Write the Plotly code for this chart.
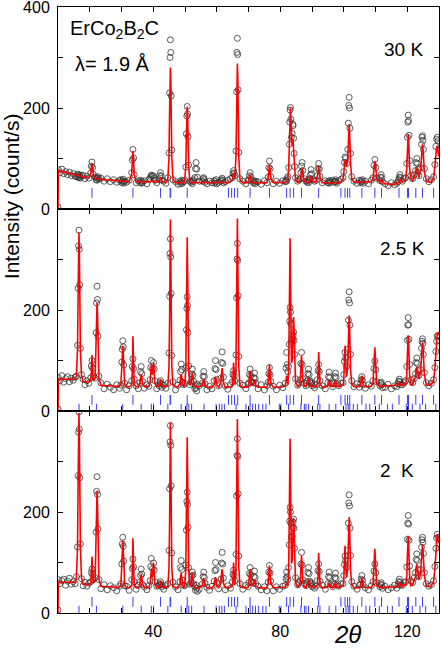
import plotly.graph_objects as go
from plotly.subplots import make_subplots

# 2-theta grid (deg), denser around the reflections
two_theta = [
    10.0, 10.1, 10.6, 11.2, 11.8, 12.4, 13.0, 13.6, 14.2, 14.8, 15.4,
    15.8, 16.15, 16.35, 16.48, 16.6, 16.72, 16.85, 17.05, 17.4,
    17.9, 18.5, 19.1, 19.7,
    20.3, 20.5, 20.7, 20.9, 21.1,
    21.7, 22.0, 22.15, 22.3, 22.45, 22.6, 22.9,
    23.5, 24.5, 25.5, 26.5, 27.5, 28.5, 29.4,
    29.8, 30.1, 30.25, 30.4, 30.55, 30.7, 31.0,
    31.6, 32.4, 33.2, 33.4, 33.6, 33.8, 34.0, 34.6, 35.3,
    35.8, 36.0, 36.2, 36.4, 36.6, 37.2, 38.0, 38.6,
    39.0, 39.2, 39.4, 39.75, 40.1, 40.3, 40.5, 41.1, 41.9, 42.1, 42.3, 42.5, 42.7, 43.3, 44.0,
    44.6, 44.95, 45.15, 45.28, 45.4, 45.52, 45.65, 45.85, 46.2,
    47.0, 47.8, 48.4, 48.6, 48.8, 49.0, 49.2, 49.6,
    49.9, 50.25, 50.45, 50.58, 50.7, 50.82, 50.95, 51.15, 51.5,
    51.9, 52.1, 52.3, 52.5, 52.7, 53.1, 53.3, 53.5, 53.7, 53.9, 54.5,
    55.5, 55.7, 55.9, 56.1, 56.3, 56.9, 57.7, 58.5,
    59.2, 59.4, 59.6, 59.8, 60.0, 60.6,
    61.3, 61.5, 61.7, 61.9, 62.1, 62.7, 63.5, 64.3,
    64.9, 65.1, 65.3, 65.5, 65.7, 66.05, 66.25, 66.38, 66.5, 66.62, 66.75, 66.95, 67.3,
    68.2, 69.2, 69.9,
    70.1, 70.3, 70.5, 70.7, 70.9, 71.5, 71.7, 71.9, 72.1, 72.3,
    73.0, 74.0, 75.0, 75.8,
    76.2, 76.4, 76.6, 76.8, 77.0,
    77.8, 78.8, 79.8, 80.8,
    81.6, 81.8, 82.0, 82.2, 82.4, 82.65, 82.85, 82.98, 83.1, 83.22, 83.35, 83.55, 83.75, 83.95, 84.05, 84.2, 84.35, 84.5, 84.8,
    85.5, 85.9, 86.3, 86.5, 86.7, 86.9, 87.1, 87.6, 88.1,
    88.5, 88.7, 88.9, 89.1, 89.3, 89.5, 89.7, 89.9, 90.1,
    90.8, 91.3, 91.7, 91.9, 92.1, 92.3, 92.5, 93.2, 94.2,
    95.0, 95.2, 95.4, 95.6, 95.8, 96.5, 97.0, 97.2, 97.4, 97.6, 97.8, 98.4, 99.2,
    99.8, 100.0, 100.2, 100.4, 100.6, 100.9, 101.25, 101.45, 101.58, 101.7, 101.82, 101.95, 102.15, 102.5,
    103.2, 104.2, 104.9, 105.3, 105.5, 105.7, 105.9, 106.1, 106.8, 107.8, 108.7,
    109.2, 109.5, 109.8, 110.1, 110.4, 111.4, 111.6, 111.8, 112.0, 112.2,
    113.0, 114.0, 115.0, 116.0, 116.7, 117.1, 117.3, 117.5, 117.7, 117.9, 118.5, 119.1,
    119.5, 119.85, 120.05, 120.18, 120.3, 120.42, 120.55, 120.75, 121.1,
    121.7, 122.2, 122.6, 122.8, 123.0, 123.2, 123.4, 123.7,
    124.2, 124.5, 124.65, 124.8, 124.95, 125.1, 125.4,
    126.0, 126.8, 127.6, 128.3, 128.7, 129.0, 129.25, 129.45, 129.7, 130.0,
]

obs_30k = [
    4, 78, 72, 79, 70, 74, 68, 73, 66, 70, 65,
    64, 69, 63, 67, 62, 68, 65, 61, 66,
    67, 60, 65, 61,
    71, 85, 93, 82, 69,
    63, 58, 62, 57, 61, 64, 59,
    61, 55, 60, 54, 58, 53, 57,
    58, 52, 56, 54, 59, 51, 55,
    53, 57, 72, 97, 118, 101, 68, 52, 56,
    53, 57, 51, 55, 52, 56, 50, 58,
    60, 64, 67, 66, 65, 61, 57, 52, 58, 66, 72, 65, 57, 55, 51,
    62, 111, 230, 300, 335, 310, 224, 117, 58,
    54, 49, 55, 50, 53, 57, 51, 54,
    57, 83, 149, 184, 203, 188, 143, 87, 55,
    53, 56, 50, 54, 58, 62, 80, 92, 79, 63, 55,
    55, 60, 62, 58, 53, 50, 55, 52,
    56, 51, 54, 58, 50, 53,
    55, 58, 61, 57, 52, 54, 57, 60,
    62, 71, 76, 70, 66, 115, 232, 310, 338, 306, 236, 112, 60,
    55, 50, 57,
    57, 66, 72, 64, 58, 52, 56, 53, 50, 55,
    54, 49, 56, 52,
    63, 82, 95, 80, 64,
    50, 55, 51, 56,
    54, 57, 55, 60, 64, 82, 128, 172, 196, 201, 178, 142, 150, 168, 165, 140, 110, 84, 62,
    55, 58, 60, 72, 85, 92, 76, 60, 55,
    53, 56, 52, 58, 60, 68, 78, 70, 58,
    55, 57, 66, 80, 90, 79, 65, 52, 56,
    52, 55, 51, 56, 53, 57, 53, 55, 58, 54, 51, 56, 59,
    62, 74, 92, 103, 100, 90, 118, 170, 205, 221, 200, 160, 110, 64,
    55, 51, 57, 52, 56, 54, 58, 51, 55, 50, 57,
    62, 86, 98, 82, 61, 56, 63, 68, 62, 54,
    50, 46, 52, 48, 51, 54, 58, 63, 68, 62, 55, 60,
    62, 90, 142, 172, 186, 175, 146, 96, 66,
    60, 68, 76, 92, 100, 90, 78, 66,
    82, 128, 142, 145, 136, 118, 80,
    60, 54, 58, 64, 88, 124, 138, 142, 135, 118,
]

calc_30k = [
    0, 76, 75, 74, 73, 72, 71, 70, 69, 68, 67,
    66, 66, 66, 65, 65, 65, 65, 65, 64,
    64, 63, 63, 62,
    69, 82, 90, 82, 69,
    61, 60, 60, 60, 60, 60, 60,
    59, 58, 58, 57, 57, 56, 56,
    55, 55, 55, 55, 55, 55, 55,
    54, 54, 69, 97, 115, 97, 69, 54, 54,
    53, 53, 53, 53, 53, 53, 53, 53,
    54, 55, 56, 56, 55, 54, 53, 53, 55, 60, 63, 60, 55, 53, 53,
    59, 102, 193, 255, 280, 255, 193, 102, 59,
    52, 52, 52, 52, 52, 52, 52, 52,
    56, 85, 146, 186, 203, 186, 146, 85, 56,
    52, 52, 52, 52, 52, 52, 52, 52, 52, 52, 52,
    52, 53, 54, 53, 52, 52, 52, 52,
    52, 52, 52, 52, 52, 52,
    52, 53, 54, 53, 52, 52, 53, 54,
    58, 66, 70, 66, 62, 104, 198, 262, 288, 262, 198, 104, 59,
    52, 52, 53,
    56, 63, 68, 63, 56, 52, 52, 52, 52, 52,
    52, 52, 52, 52,
    61, 77, 88, 77, 61,
    52, 52, 52, 52,
    53, 54, 54, 57, 62, 80, 126, 170, 195, 201, 178, 135, 125, 138, 135, 118, 94, 74, 58,
    53, 54, 58, 66, 78, 82, 70, 56, 53,
    52, 52, 53, 54, 56, 61, 66, 61, 55,
    53, 54, 64, 77, 85, 76, 62, 52, 52,
    52, 52, 52, 52, 52, 52, 52, 52, 53, 52, 52, 52, 54,
    60, 70, 86, 96, 95, 84, 100, 135, 158, 168, 155, 125, 90, 60,
    53, 53, 53, 53, 53, 54, 53, 53, 53, 53, 54,
    60, 84, 95, 80, 59, 53, 56, 58, 56, 52,
    50, 49, 49, 49, 50, 52, 54, 57, 60, 57, 53, 56,
    60, 81, 116, 140, 148, 140, 116, 81, 60,
    56, 62, 70, 78, 82, 77, 70, 62,
    78, 114, 125, 128, 120, 104, 74,
    56, 53, 54, 62, 84, 110, 122, 125, 118, 104,
]

obs_25k = [
    4, 66, 60, 70, 57, 64, 68, 58, 65, 61, 67,
    69, 130, 243, 327, 358, 320, 250, 124, 72,
    63, 52, 60, 55,
    66, 89, 100, 85, 70,
    65, 155, 214, 247, 221, 148, 69,
    56, 44, 53, 47, 42, 52, 45,
    51, 97, 122, 139, 127, 91, 55,
    42, 50, 60, 88, 103, 84, 63, 50, 44,
    56, 78, 88, 74, 59, 45, 52, 49,
    62, 86, 100, 84, 96, 83, 60, 44, 50, 56, 60, 54, 47, 51, 45,
    55, 115, 227, 312, 341, 305, 233, 110, 58,
    42, 51, 61, 78, 93, 82, 57, 52,
    55, 85, 161, 203, 226, 209, 155, 89, 52,
    57, 73, 83, 71, 59, 44, 51, 46, 40, 53, 50,
    55, 69, 78, 68, 54, 42, 49, 44,
    60, 84, 100, 82, 62, 50,
    65, 96, 117, 94, 67, 50, 43, 52,
    58, 72, 80, 70, 60, 111, 224, 301, 332, 298, 228, 108, 55,
    51, 44, 53,
    56, 72, 83, 70, 58, 56, 66, 75, 64, 55,
    44, 52, 42, 50,
    57, 74, 86, 72, 59,
    49, 42, 51, 46,
    55, 85, 116, 92, 78, 88, 132, 178, 205, 196, 172, 140, 135, 142, 150, 156, 140, 112, 64,
    51, 55, 62, 94, 116, 92, 64, 55, 50,
    60, 74, 83, 72, 60, 56, 58, 54, 50,
    46, 52, 62, 80, 92, 78, 60, 50, 44,
    56, 68, 77, 66, 55, 48, 55, 68, 75, 66, 54, 50, 55,
    56, 72, 98, 116, 105, 88, 122, 180, 220, 236, 214, 170, 112, 60,
    48, 54, 47, 54, 62, 68, 61, 52, 45, 52, 49,
    60, 84, 99, 82, 58, 50, 55, 57, 52, 46,
    47, 53, 44, 50, 48, 54, 59, 63, 58, 52, 52, 56,
    60, 88, 140, 170, 185, 171, 142, 92, 62,
    56, 64, 74, 96, 105, 94, 80, 70,
    82, 124, 138, 143, 134, 112, 76,
    56, 50, 55, 62, 86, 118, 138, 148, 149, 140,
]

calc_25k = [
    0, 63, 63, 63, 62, 62, 62, 62, 62, 62, 63,
    70, 124, 240, 320, 354, 320, 240, 124, 70,
    58, 58, 57, 57,
    60, 73, 111, 73, 60,
    65, 135, 191, 215, 191, 135, 65,
    51, 50, 50, 50, 49, 49, 49,
    53, 88, 117, 129, 117, 88, 53,
    48, 48, 52, 78, 148, 78, 52, 48, 48,
    54, 66, 73, 66, 54, 48, 48, 49,
    58, 78, 90, 72, 96, 78, 56, 48, 50, 52, 63, 52, 50, 48, 48,
    51, 88, 180, 306, 379, 306, 180, 88, 51,
    48, 48, 54, 66, 73, 66, 54, 49,
    51, 84, 166, 279, 344, 279, 166, 84, 51,
    55, 67, 75, 67, 55, 48, 48, 48, 48, 48, 48,
    51, 58, 63, 58, 51, 47, 47, 47,
    52, 61, 68, 61, 52, 47,
    56, 74, 85, 74, 56, 47, 47, 48,
    50, 62, 96, 62, 52, 87, 181, 308, 381, 308, 181, 87, 50,
    47, 47, 48,
    55, 70, 80, 70, 55, 50, 57, 62, 57, 50,
    47, 47, 47, 47,
    55, 72, 92, 72, 55,
    47, 47, 47, 48,
    50, 60, 70, 60, 52, 82, 165, 277, 342, 277, 165, 95, 100, 140, 165, 186, 165, 110, 58,
    48, 50, 60, 90, 110, 88, 62, 50, 48,
    54, 61, 65, 61, 54, 51, 52, 50, 48,
    48, 49, 54, 70, 117, 70, 54, 47, 47,
    50, 56, 60, 56, 50, 48, 50, 56, 60, 56, 50, 48, 50,
    52, 62, 90, 129, 92, 68, 88, 140, 175, 189, 172, 128, 82, 54,
    48, 48, 48, 52, 62, 70, 62, 52, 48, 48, 49,
    55, 88, 126, 86, 54, 48, 49, 50, 49, 48,
    50, 50, 50, 50, 51, 52, 55, 58, 55, 52, 51, 54,
    52, 72, 112, 138, 150, 138, 112, 72, 52,
    53, 60, 68, 80, 87, 80, 72, 64,
    78, 116, 130, 136, 128, 106, 72,
    52, 51, 53, 60, 84, 120, 142, 154, 156, 150,
]

obs_2k = [
    6, 66, 58, 64, 67, 55, 63, 69, 57, 62, 58,
    72, 131, 272, 358, 398, 364, 268, 137, 68,
    54, 61, 53, 59,
    62, 80, 87, 76, 66,
    70, 160, 241, 270, 235, 166, 66,
    48, 56, 46, 54, 50, 44, 53,
    58, 97, 137, 150, 132, 103, 54,
    53, 45, 66, 88, 107, 91, 62, 47, 55,
    61, 74, 87, 77, 57, 52, 46, 54,
    64, 92, 108, 88, 99, 85, 62, 53, 55, 58, 62, 56, 52, 47, 54,
    58, 124, 246, 339, 371, 332, 252, 119, 61,
    52, 46, 62, 90, 104, 86, 65, 55,
    54, 95, 164, 221, 239, 215, 170, 90, 57,
    60, 73, 81, 75, 58, 52, 45, 55, 49, 43, 47,
    58, 72, 81, 70, 59, 51, 45, 53,
    63, 84, 100, 86, 61, 48,
    67, 99, 120, 97, 69, 46, 54, 49,
    62, 76, 85, 74, 64, 116, 232, 312, 345, 310, 236, 113, 58,
    47, 55, 52,
    60, 78, 90, 76, 62, 59, 72, 83, 70, 58,
    53, 46, 52, 44,
    61, 81, 94, 79, 63,
    44, 52, 47, 53,
    55, 68, 81, 72, 66, 90, 135, 182, 209, 200, 178, 150, 152, 170, 180, 186, 168, 128, 70,
    56, 60, 64, 97, 120, 95, 66, 58, 54,
    62, 80, 90, 78, 63, 58, 60, 55, 52,
    49, 53, 64, 84, 97, 82, 63, 55, 47,
    58, 72, 81, 70, 57, 52, 57, 70, 79, 68, 56, 53, 58,
    58, 74, 96, 113, 104, 90, 124, 178, 218, 234, 212, 168, 114, 62,
    53, 47, 55, 57, 67, 74, 65, 56, 50, 46, 54,
    62, 83, 97, 80, 60, 52, 57, 60, 55, 49,
    53, 46, 50, 55, 49, 56, 62, 67, 61, 55, 55, 60,
    62, 91, 146, 178, 193, 176, 144, 93, 64,
    60, 70, 80, 106, 117, 104, 86, 72,
    86, 130, 145, 150, 140, 118, 80,
    58, 53, 56, 64, 92, 128, 148, 156, 150, 138,
]

calc_2k = [
    0, 61, 61, 61, 61, 60, 60, 60, 60, 60, 61,
    70, 132, 268, 359, 396, 359, 268, 132, 70,
    57, 57, 56, 56,
    59, 73, 112, 73, 59,
    66, 148, 214, 242, 214, 148, 66,
    53, 52, 52, 52, 51, 51, 51,
    56, 96, 129, 143, 129, 96, 56,
    50, 50, 54, 80, 148, 80, 54, 50, 50,
    57, 69, 77, 69, 57, 50, 50, 51,
    58, 74, 84, 70, 100, 80, 58, 50, 52, 54, 64, 54, 52, 50, 50,
    53, 89, 181, 306, 378, 306, 181, 89, 53,
    50, 50, 57, 70, 79, 70, 57, 51,
    53, 86, 169, 282, 348, 282, 169, 86, 53,
    57, 70, 79, 70, 57, 50, 50, 50, 50, 50, 50,
    55, 63, 69, 63, 55, 50, 50, 50,
    55, 65, 71, 65, 55, 50,
    59, 77, 87, 77, 59, 50, 50, 51,
    53, 65, 100, 65, 55, 90, 184, 311, 384, 311, 184, 90, 53,
    50, 50, 51,
    60, 77, 87, 77, 60, 54, 61, 66, 61, 54,
    50, 50, 50, 50,
    60, 78, 94, 78, 60,
    50, 50, 50, 51,
    52, 56, 60, 56, 54, 84, 168, 280, 345, 280, 168, 98, 104, 145, 168, 188, 168, 112, 60,
    51, 53, 62, 92, 114, 90, 63, 52, 50,
    56, 62, 66, 62, 56, 54, 54, 52, 51,
    50, 52, 56, 72, 119, 72, 56, 50, 50,
    52, 57, 60, 57, 52, 50, 52, 57, 60, 57, 52, 50, 52,
    54, 64, 92, 133, 95, 70, 90, 142, 176, 190, 174, 130, 84, 56,
    50, 50, 50, 54, 62, 69, 62, 54, 50, 50, 51,
    56, 90, 127, 88, 55, 50, 51, 52, 51, 50,
    51, 51, 51, 51, 52, 54, 58, 61, 58, 54, 53, 56,
    54, 74, 114, 140, 153, 140, 114, 74, 54,
    56, 64, 72, 88, 97, 88, 76, 66,
    80, 118, 130, 135, 126, 104, 74,
    54, 52, 54, 62, 88, 124, 146, 156, 150, 138,
]

# Bragg reflection positions (deg)
nuclear_refl = [20.7, 33.6, 42.3, 45.3, 45.5, 50.7, 63.7, 64.7, 65.6, 66.6, 70.5, 76.6,
                82.0, 83.1, 84.2, 86.7, 92.1, 99.1, 100.4, 101.2, 101.9, 105.7, 109.8,
                111.9, 117.4, 120.1, 120.4, 122.7, 124.8, 128.3]
magnetic_refl = [16.6, 22.1, 30.4, 36.2, 39.4, 40.1, 44.6, 48.8, 50.6, 51.2, 52.1, 56.0,
                 59.8, 60.8, 61.6, 62.4, 66.1, 69.2, 70.5, 71.3, 72.2, 73.2, 74.5, 75.5,
                 79.7, 80.2, 82.6, 86.5, 87.6, 88.1, 88.9, 91.8, 92.5, 95.4, 97.5, 100.7,
                 101.4, 101.9, 103.0, 104.3, 107.0, 108.2, 111.2, 113.8, 115.3, 119.7,
                 120.4, 121.6, 124.0, 125.8, 129.0]

for arr in (obs_30k, calc_30k, obs_25k, calc_25k, obs_2k, calc_2k):
    assert len(arr) == len(two_theta), len(arr)

panels = [
    ("30 K", obs_30k, calc_30k, False),
    ("2.5 K", obs_25k, calc_25k, True),
    ("2 K", obs_2k, calc_2k, True),
]

BLUE = "#3c3cf2"
fig = make_subplots(rows=3, cols=1, shared_xaxes=True, vertical_spacing=0)

for i, (label, obs, calc, has_mag) in enumerate(panels, start=1):
    fig.add_trace(go.Scatter(x=two_theta, y=obs, mode="markers",
                             marker=dict(symbol="circle-open", size=6, color="#333333",
                                         line=dict(width=0.8))), row=i, col=1)
    fig.add_trace(go.Scatter(x=two_theta, y=calc, mode="lines",
                             line=dict(color="#ff0000", width=1.6)), row=i, col=1)
    nuc_y = 22 if has_mag else 32
    fig.add_trace(go.Scatter(x=nuclear_refl, y=[nuc_y] * len(nuclear_refl), mode="markers",
                             marker=dict(symbol="line-ns-open", size=7, color=BLUE,
                                         line=dict(color=BLUE, width=1))), row=i, col=1)
    if has_mag:
        fig.add_trace(go.Scatter(x=magnetic_refl, y=[6] * len(magnetic_refl), mode="markers",
                                 marker=dict(symbol="line-ns-open", size=6, color=BLUE,
                                             line=dict(color=BLUE, width=1))), row=i, col=1)

tick_style = dict(ticks="inside", ticklen=5, tickcolor="black")
axis_style = dict(showline=True, linecolor="black", linewidth=1, mirror="allticks",
                  showgrid=False, zeroline=False, automargin=False, ticklabeloverflow="allow",
                  tickfont=dict(size=16, color="black"), **tick_style)

fig.update_xaxes(range=[10, 130], tickvals=[40, 80, 120], ticklabelstandoff=4,
                 minor=dict(dtick=10, tick0=0, showgrid=False, **tick_style), **axis_style)
for i in (1, 2, 3):
    yticks = [0, 200, 400] if i == 1 else [0, 200]
    fig.update_yaxes(range=[0, 400], tickvals=yticks, ticklabelstandoff=4, row=i, col=1,
                     minor=dict(dtick=100, tick0=0, showgrid=False, **tick_style), **axis_style)

fnt = dict(family="Liberation Sans, Arial, sans-serif", size=19, color="black")
fig.add_annotation(x=13.0, y=356, xref="x", yref="y", text="ErCo<sub>2</sub>B<sub>2</sub>C",
                   showarrow=False, xanchor="left", font=dict(fnt, size=20))
fig.add_annotation(x=14.6, y=288, xref="x", yref="y", text="λ= 1.9 Å",
                   showarrow=False, xanchor="left", font=dict(fnt, size=20))
fig.add_annotation(x=125.6, y=316, xref="x", yref="y", text="30 K",
                   showarrow=False, xanchor="right", font=fnt)
fig.add_annotation(x=126.2, y=321, xref="x2", yref="y2", text="2.5 K",
                   showarrow=False, xanchor="right", font=fnt)
fig.add_annotation(x=122.8, y=283, xref="x3", yref="y3", text="2&nbsp;&nbsp;K",
                   showarrow=False, xanchor="right", font=fnt)
fig.add_annotation(x=-0.123, y=0.688, xref="paper", yref="paper", text="Intensity (count/s)",
                   textangle=-90, showarrow=False, xanchor="center", yanchor="middle",
                   font=dict(fnt, size=21))
fig.add_annotation(x=0.761, y=-0.036, xref="paper", yref="paper", text="<i>2θ</i>",
                   showarrow=False, xanchor="center", yanchor="middle", font=dict(fnt, size=24))

fig.update_layout(width=442, height=649, margin=dict(l=58, r=3, t=7, b=36),
                  plot_bgcolor="white", paper_bgcolor="white", showlegend=False,
                  font=dict(family="Liberation Sans, Arial, sans-serif", color="black"))

fig.write_html("out.html", config={"displayModeBar": False},
               post_script="document.body.style.margin = '0';")
